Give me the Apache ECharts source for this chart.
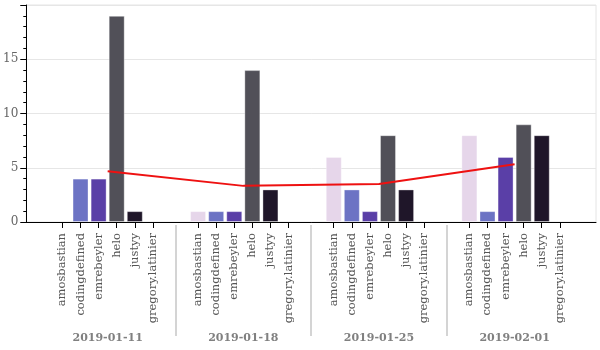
<!DOCTYPE html>
<html>
<head>
<meta charset="utf-8">
<script src="https://cdn.jsdelivr.net/npm/echarts@6/dist/echarts.min.js"></script>
<style>
  html, body { margin: 0; padding: 0; background: #fff; }
  #chart { width: 600px; height: 350px; }
</style>
</head>
<body>
<div id="chart"></div>
<script>
// weeks and authors
var dates = ["2019-01-11", "2019-01-18", "2019-01-25", "2019-02-01"];
var names = ["amosbastian", "codingdefined", "emrebeyler", "helo", "justyy", "gregory.latinier"];
var colors = ["#e6d6ea", "#6c73c4", "#5a3fa7", "#515058", "#1f1629", "#e6e6e6"];

// one array per author, one value per week
var amosbastian = [0, 1, 6, 8];
var codingdefined = [4, 1, 3, 1];
var emrebeyler = [4, 1, 1, 6];
var helo = [19, 14, 8, 9];
var justyy = [1, 3, 3, 8];
var gregoryLatinier = [0, 0, 0, 0];
var seriesValues = [amosbastian, codingdefined, emrebeyler, helo, justyy, gregoryLatinier];

// weekly mean (red line)
var weekMean = [4.67, 3.33, 3.5, 5.33];

var yTicks = [0, 5, 10, 15];

// slot layout on the category axis (half-slot units)
var SLOTS = 64;
var FIRST = 4, GROUP_STEP = 15;
function slotOf(g, j) { return FIRST + g * GROUP_STEP + 2 * j; }
function centerOf(g) { return FIRST + g * GROUP_STEP + 5; }

var catData = [];
for (var i = 0; i < SLOTS; i++) catData.push("");
dates.forEach(function (d, g) {
  names.forEach(function (n, j) { catData[slotOf(g, j)] = n; });
});

// second axis for week labels + separators, quarter-slot units
var QSLOTS = 2 * (SLOTS - 1) + 1;
var dateData = [];
var sepIdx = {};
for (var k = 0; k < QSLOTS; k++) dateData.push("");
dates.forEach(function (d, g) {
  dateData[2 * centerOf(g)] = d;
  if (g > 0) sepIdx[2 * (slotOf(g - 1, 5)) + 5] = true;
});

var series = names.map(function (n, j) {
  var arr = [];
  for (var i = 0; i < SLOTS; i++) arr.push(null);
  dates.forEach(function (d, g) {
    var v = seriesValues[j][g];
    arr[slotOf(g, j)] = v === 0 ? null : v;
  });
  return {
    name: n,
    type: "bar",
    stack: "all",
    barWidth: 16,
    itemStyle: {
      color: colors[j],
      borderColor: "rgba(255,255,255,0.35)",
      borderWidth: 1,
    },
    data: arr,
  };
});

var lineData = [];
for (var i = 0; i < SLOTS; i++) lineData.push(null);
dates.forEach(function (d, g) { lineData[centerOf(g)] = weekMean[g]; });
series.push({
  name: "mean",
  type: "line",
  data: lineData,
  connectNulls: true,
  symbol: "none",
  z: 5,
  lineStyle: { color: "#ee1111", width: 2 },
});

var chart = echarts.init(document.getElementById("chart"));
var serif = "DejaVu Serif";
var option = {
  animation: false,
  grid: {
    left: 26,
    right: 4,
    top: 5,
    bottom: 128,
    show: true,
    borderColor: "#e4e4e4",
    borderWidth: 1,
  },
  xAxis: [
    {
      type: "category",
      data: catData,
      boundaryGap: false,
      axisLine: { lineStyle: { color: "#000", width: 1 } },
      axisTick: {
        interval: function (idx) { return catData[idx] !== ""; },
        length: 6,
        lineStyle: { color: "#000" },
      },
      axisLabel: {
        interval: function (idx) { return catData[idx] !== ""; },
        rotate: 90,
        margin: 11,
        fontSize: 11.5,
        color: "#555",
        fontFamily: serif,
      },
      splitLine: { show: false },
    },
    {
      type: "category",
      data: dateData,
      boundaryGap: false,
      position: "bottom",
      offset: 3,
      axisLine: { show: false },
      axisTick: {
        interval: function (idx) { return !!sepIdx[idx]; },
        length: 111,
        lineStyle: { color: "#d4d4d4", width: 2 },
      },
      axisLabel: {
        interval: function (idx) { return dateData[idx] !== ""; },
        margin: 108,
        fontSize: 11,
        fontWeight: "bold",
        color: "#808080",
        fontFamily: serif,
      },
      splitLine: { show: false },
    },
  ],
  yAxis: {
    type: "value",
    min: 0,
    max: 20,
    interval: 5,
    axisLine: { show: true, lineStyle: { color: "#000" } },
    axisTick: { show: true, length: 6, lineStyle: { color: "#000" } },
    minorTick: { show: true, splitNumber: 5, length: 3, lineStyle: { color: "#000" } },
    axisLabel: {
      margin: 8,
      fontSize: 12,
      color: "#666",
      fontFamily: serif,
      formatter: function (v) { return yTicks.indexOf(v) >= 0 ? String(v) : ""; },
    },
    splitLine: { lineStyle: { color: "#e6e6e6" } },
  },
  series: series,
};
chart.setOption(option);
</script>
</body>
</html>
